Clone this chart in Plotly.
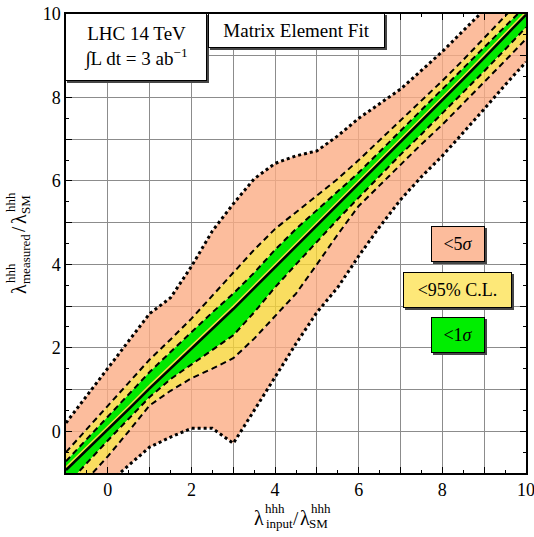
import plotly.graph_objects as go

# ---------------- data ----------------
lam_input = [-1, -0.5, 0, 0.5, 1, 1.5, 2, 2.5, 3, 3.5, 4, 4.5, 5, 5.5, 6, 6.5, 7, 7.5, 8, 8.5, 9, 9.5, 10]

upper_5sigma = [0.2, 0.85, 1.5, 2.15, 2.82, 3.2, 3.95, 4.8, 5.45, 6.05, 6.42, 6.6, 6.72, 7.08, 7.5, 7.85,
                8.2, 8.65, 9.1, 9.6, 10.1, 10.55, 11.0]
upper_95cl = [-0.5, 0.05, 0.6, 1.15, 1.72, 2.2, 2.7, 3.25, 3.8, 4.35, 4.85, 5.25, 5.65, 6.05, 6.5, 6.97,
              7.45, 7.92, 8.4, 8.9, 9.42, 9.95, 10.5]
upper_1sigma = [-0.72, -0.18, 0.35, 0.9, 1.42, 1.9, 2.38, 2.85, 3.3, 3.8, 4.35, 4.85, 5.3, 5.75, 6.2, 6.7,
                7.2, 7.7, 8.2, 8.7, 9.2, 9.7, 10.2]
gap_line = [-0.86, -0.38, 0.1, 0.6, 1.1, 1.57, 2.05, 2.52, 3.0, 3.5, 4.0, 4.5, 5.0, 5.49, 5.99, 6.49,
            6.99, 7.49, 8.0, 8.51, 9.02, 9.54, 10.05]
central = [-0.93, -0.45, 0.03, 0.53, 1.03, 1.5, 1.98, 2.45, 2.93, 3.43, 3.93, 4.43, 4.93, 5.42, 5.92, 6.42,
           6.92, 7.42, 7.93, 8.44, 8.95, 9.47, 9.98]
lower_1sigma = [-1.3, -0.75, -0.22, 0.3, 0.82, 1.25, 1.6, 1.93, 2.3, 2.85, 3.45, 4.0, 4.55, 5.08, 5.6, 6.12,
                6.63, 7.12, 7.62, 8.12, 8.63, 9.15, 9.68]
lower_95cl = [-1.7, -1.15, -0.6, 0.0, 0.62, 0.97, 1.27, 1.5, 1.75, 2.22, 2.75, 3.3, 4.0, 4.72, 5.4, 5.9,
              6.4, 6.88, 7.35, 7.85, 8.37, 8.88, 9.4]
lower_5sigma = [-2.3, -1.75, -1.25, -0.82, -0.38, -0.14, 0.07, 0.07, -0.29, 0.5, 1.3, 2.1, 2.85, 3.45, 4.2, 4.9,
                5.55, 6.1, 6.6, 7.15, 7.72, 8.3, 8.85]

tick_vals = [-1, 0, 1, 2, 3, 4, 5, 6, 7, 8, 9, 10]
tick_text = ["", "0", "", "2", "", "4", "", "6", "", "8", "", "10"]

legend_labels = ["&lt;5<i>σ</i>", "&lt;95% C.L.", "&lt;1<i>σ</i>"]
legend_y = [4.5, 3.39, 2.3]
legend_x = 8.37

# ---------------- style ----------------
SERIF = "Liberation Serif"
SALMON = "rgba(251,172,132,0.8)"
YELLOW = "rgba(248,212,56,0.8)"
GREEN = "rgb(0,232,0)"
SALMON_BOX = "rgb(252,188,156)"
YELLOW_BOX = "rgb(253,232,120)"
GREEN_BOX = "rgb(0,238,0)"

W, H = 534, 537
ML, MR, MT, MB = 66, 8, 14, 64
PW, PH = W - ML - MR, H - MT - MB

fig = go.Figure()

def fill_trace(y, fill=None, color=None):
    fig.add_trace(go.Scatter(x=lam_input, y=y, mode="lines", line=dict(width=0),
                             fill=fill, fillcolor=color, hoverinfo="skip", showlegend=False))

fill_trace(upper_5sigma)
fill_trace(upper_95cl, "tonexty", SALMON)
fill_trace(upper_1sigma, "tonexty", YELLOW)
fill_trace(lower_1sigma, "tonexty", GREEN)
fill_trace(lower_95cl, "tonexty", YELLOW)
fill_trace(lower_5sigma, "tonexty", SALMON)

def line_trace(y, color, width, dash):
    fig.add_trace(go.Scatter(x=lam_input, y=y, mode="lines",
                             line=dict(color=color, width=width, dash=dash),
                             hoverinfo="skip", showlegend=False))

line_trace(gap_line, "rgb(250,215,70)", 1.5, "solid")
line_trace(central, "black", 2.5, "solid")
for arr in (upper_95cl, upper_1sigma, lower_1sigma, lower_95cl):
    line_trace(arr, "black", 2, "6px,4px")
for arr in (upper_5sigma, lower_5sigma):
    line_trace(arr, "black", 3, "3px,3px")

axis_common = dict(
    range=[-1, 10], tickvals=tick_vals, ticktext=tick_text, automargin=False,
    ticklabeloverflow="allow",
    showgrid=True, gridcolor="rgb(140,140,140)", gridwidth=1,
    ticks="inside", ticklen=6, tickwidth=1, tickcolor="black",
    showline=True, linecolor="black", linewidth=1.5, mirror="ticks",
    zeroline=False, tickfont=dict(family=SERIF, size=18, color="black"),
    minor=dict(dtick=0.5, ticks="inside", ticklen=3, tickcolor="black", showgrid=False),
)
fig.update_xaxes(**axis_common)
fig.update_yaxes(**axis_common)

annotations = []

def px2paper(px, py):
    return (px - ML) / PW, (MT + PH - py) / PH

def piece(text, px, py, size, angle=0):
    x, y = px2paper(px, py)
    annotations.append(dict(text=text, x=x, y=y, xref="paper", yref="paper",
                            xanchor="center", yanchor="middle", showarrow=False,
                            textangle=angle, font=dict(family=SERIF, size=size, color="black")))

def box(text, px, py, w, h, bg, size, xref="paper", yref="paper", x=None, y=None):
    if x is None:
        x, y = px2paper(px, py)
    common = dict(x=x, y=y, xref=xref, yref=yref, xanchor="center", yanchor="middle",
                  showarrow=False, width=w, height=h, align="center")
    # shadow
    annotations.append(dict(text=text, bgcolor="rgb(70,70,70)", borderwidth=1, bordercolor="rgb(70,70,70)",
                            xshift=2, yshift=-2, font=dict(family=SERIF, size=size, color="rgba(0,0,0,0)"),
                            **common))
    annotations.append(dict(text=text, bgcolor=bg, borderwidth=1, bordercolor="black",
                            font=dict(family=SERIF, size=size, color="black"), **common))

# top-left boxes
box("LHC 14 TeV<br>∫L dt = 3 ab<sup>−1</sup>", 136, 47, 138, 64, "white", 19)
box("Matrix Element Fit", 296, 30.5, 173, 31, "white", 19)

# legend boxes
for lab, yy, bg, w in zip(legend_labels, legend_y, [SALMON_BOX, YELLOW_BOX, GREEN_BOX], [50, 105, 50]):
    box(lab, None, None, w, 32, bg, 18, xref="x", yref="y", x=legend_x, y=yy)

# x-axis label
piece("λ", 259, 518, 20)
piece("hhh", 275, 508, 13)
piece("input", 279, 523, 13)
piece("/", 296, 518, 19)
piece("λ", 305, 518, 20)
piece("hhh", 321, 508, 13)
piece("SM", 318, 523, 13)

# y-axis label (rotated)
piece("λ", 19, 289, 20, -90)
piece("hhh", 11, 273, 13, -90)
piece("measured", 25, 259, 13, -90)
piece("/", 19, 229, 19, -90)
piece("λ", 19, 219, 20, -90)
piece("hhh", 11, 202, 13, -90)
piece("SM", 25, 205, 13, -90)

fig.update_layout(width=W, height=H, margin=dict(l=ML, r=MR, t=MT, b=MB, autoexpand=False),
                  plot_bgcolor="white", paper_bgcolor="white",
                  annotations=annotations, showlegend=False)

fig.write_html("out.html")
